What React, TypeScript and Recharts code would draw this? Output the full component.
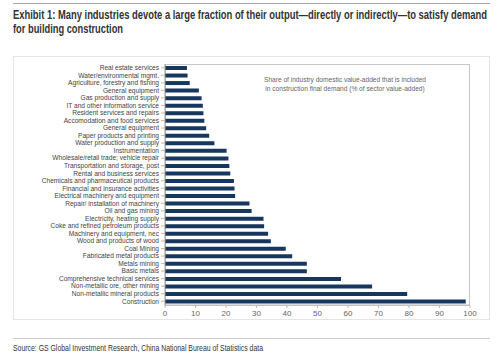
import { BarChart, Bar, XAxis, YAxis } from 'recharts'

const industries = [
  'Real estate services',
  'Water/environmental mgmt.',
  'Agriculture, forestry and fishing',
  'General equipment',
  'Gas production and supply',
  'IT and other information service',
  'Resident services and repairs',
  'Accomodation and food services',
  'General equipment ',
  'Paper products and printing',
  'Water production and supply',
  'Instrumentation',
  'Wholesale/retail trade; vehicle repair',
  'Transportation and storage, post',
  'Rental and business services',
  'Chemicals and pharmaceutical products',
  'Financial and insurance activities',
  'Electrical machinery and equipment',
  'Repair/ installation of machinery',
  'Oil and gas mining',
  'Electricity, heating supply',
  'Coke and refined petroleum products',
  'Machinery and equipment, nec',
  'Wood and products of wood',
  'Coal Mining',
  'Fabricated metal products',
  'Metals mining',
  'Basic metals',
  'Comprehensive technical services',
  'Non-metallic ore, other mining',
  'Non-metallic mineral products',
  'Construction',
]

const shares = [
  7.2, 7.4, 8.1, 11.1, 12.0, 12.4, 12.6, 12.9, 13.5, 14.5, 16.2, 20.2, 20.8, 21.1, 21.4, 22.6,
  22.8, 23.0, 27.7, 28.4, 32.3, 32.5, 33.8, 34.7, 39.6, 41.7, 46.5, 46.5, 57.7, 67.9, 79.4, 98.6,
]

const xTicks = [0, 10, 20, 30, 40, 50, 60, 70, 80, 90, 100]

const data = industries.map((name, i) => ({ name, share: shares[i] }))

const sans = "'Liberation Sans', Arial, sans-serif"

// single-line category label, no wrapping
function CategoryTick({ x, y, payload }: any) {
  return (
    <text x={x} y={y} dy={2.3} textAnchor="end" fontSize={6.6} fill="#444" fontFamily={sans}>
      {payload.value}
    </text>
  )
}

export default function App() {
  return (
    <div style={{ position: 'absolute', left: 0, top: 0, width: 500, height: 356, background: '#fff' }}>
      <svg style={{ position: 'absolute', left: 0, top: 0 }} width={500} height={356}>
        <line x1={13} x2={490} y1={3.5} y2={3.5} stroke="#aaa" />
        <g fontFamily={sans} fontWeight="bold" fontSize={12} fill="#333">
          <text x={13} y={19} textLength={474} lengthAdjust="spacingAndGlyphs">
            Exhibit 1: Many industries devote a large fraction of their output—directly or indirectly—to satisfy demand
          </text>
          <text x={13} y={33} textLength={110} lengthAdjust="spacingAndGlyphs">
            for building construction
          </text>
        </g>
        <rect x={13.5} y={56.5} width={476} height={263} fill="none" stroke="#e4e4e4" />
        <rect x={165.5} y={64.5} width={304} height={241} fill="none" stroke="#c8c8c8" />
        <line x1={13} x2={490} y1={338.5} y2={338.5} stroke="#ccc" />
        <text x={13} y={351} fontFamily={sans} fontSize={9.5} fill="#333" textLength={250} lengthAdjust="spacingAndGlyphs">
          Source: GS Global Investment Research, China National Bureau of Statistics data
        </text>
      </svg>

      <div
        style={{
          position: 'absolute',
          left: 250,
          top: 75,
          width: 190,
          textAlign: 'center',
          fontFamily: sans,
          fontSize: 6.6,
          lineHeight: '9px',
          color: '#666',
        }}
      >
        Share of industry domestic value-added that is included
        <br />
        in construction final demand (% of sector value-added)
      </div>

      <div style={{ position: 'absolute', left: 13, top: 57 }}>
        <BarChart
          width={477}
          height={263}
          data={data}
          layout="vertical"
          barSize={4}
          margin={{ top: 7, right: 20, left: 0, bottom: 0 }}
        >
          <XAxis
            type="number"
            domain={[0, 100]}
            ticks={xTicks}
            height={15}
            tickSize={3}
            tickMargin={2}
            tick={{ fontSize: 8, fill: '#666', fontFamily: sans }}
            axisLine={{ stroke: '#bbb' }}
            tickLine={{ stroke: '#bbb' }}
          />
          <YAxis
            type="category"
            dataKey="name"
            width={152}
            interval={0}
            tickSize={4}
            tickMargin={2}
            tick={<CategoryTick />}
            axisLine={{ stroke: '#999' }}
            tickLine={{ stroke: '#d9b48c' }}
          />
          <Bar dataKey="share" fill="#17375e" isAnimationActive={false} />
        </BarChart>
      </div>
    </div>
  )
}
